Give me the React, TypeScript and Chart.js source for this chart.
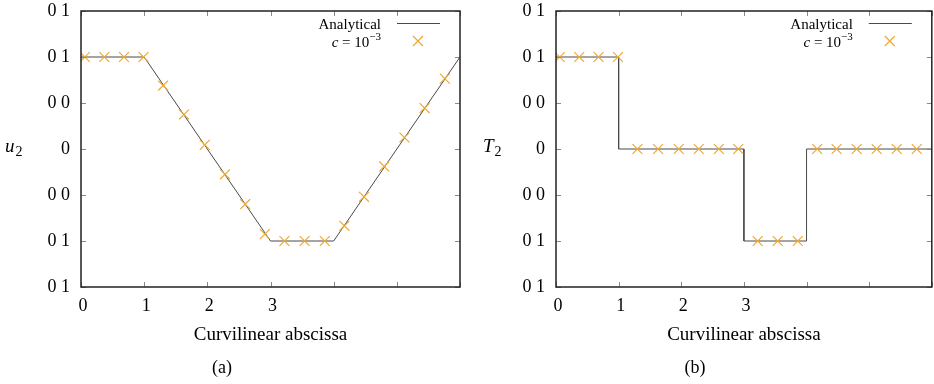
import { useEffect, useRef } from "react";
import { Chart, registerables } from "chart.js";

Chart.register(...registerables);

const FONT = '"Liberation Serif", "Times New Roman", Times, serif';

const xTickValues = [0, 1, 2, 3, 4, 5, 6];
const xTickLabels = ["0", "1", "2", "3", "", "", ""];
const yTickValues = [-3, -2, -1, 0, 1, 2, 3];
const yTickLabels = ["0 1", "0 1", "0 0", "0", "0 0", "0 1", "0 1"];

const xTitle = "Curvilinear abscissa";
const legendExact = "Analytical";

// numerical sample abscissae
const abscissa = [0.06, 0.37, 0.68, 0.99, 1.3, 1.63, 1.96, 2.28, 2.6, 2.91, 3.22, 3.54, 3.86, 4.17, 4.48, 4.8, 5.12, 5.44, 5.76];
const uNumerical = [2, 2, 2, 2, 1.38, 0.75, 0.09, -0.55, -1.2, -1.85, -2, -2, -2, -1.67, -1.04, -0.38, 0.25, 0.89, 1.53];
const tNumerical = [2, 2, 2, 2, 0, 0, 0, 0, 0, 0, -2, -2, -2, 0, 0, 0, 0, 0, 0];

// analytical solutions
const uExactX = [0, 1, 3, 4, 6];
const uExactY = [2, 2, -2, -2, 2];
const tExactX = [0, 1, 1, 3, 3, 4, 4, 6];
const tExactY = [2, 2, 0, 0, -2, -2, 0, 0];

const LINE_COLOR = "#4a4a4a";
const MARK_COLOR = "#f0a832";

type PanelCfg = {
  left: number;
  yAxisWidth: number;
  padRight: number;
  varName: string;
  varX: number;
  caption: string;
  captionX: number;
  exactX: number[];
  exactY: number[];
  num: number[];
};

const panels: PanelCfg[] = [
  { left: 0, yAxisWidth: 81, padRight: 10, varName: "u", varX: 5, caption: "(a)", captionX: 222, exactX: uExactX, exactY: uExactY, num: uNumerical },
  { left: 470, yAxisWidth: 86, padRight: 5, varName: "T", varX: 13, caption: "(b)", captionX: 225, exactX: tExactX, exactY: tExactY, num: tNumerical },
];

function drawCross(ctx: CanvasRenderingContext2D, cx: number, cy: number, h: number) {
  ctx.beginPath();
  ctx.moveTo(cx - h, cy - h);
  ctx.lineTo(cx + h, cy + h);
  ctx.moveTo(cx - h, cy + h);
  ctx.lineTo(cx + h, cy - h);
  ctx.stroke();
}

const decorPlugin = {
  id: "decor",
  afterDraw(chart: any, _args: any, opts: any) {
    const { ctx, chartArea: ca } = chart;
    const xs = chart.scales.x;
    const ys = chart.scales.y;
    ctx.save();
    // inward tick marks on all four sides
    ctx.strokeStyle = "#8a8a8a";
    ctx.lineWidth = 1;
    const tl = 5;
    for (const v of xTickValues) {
      const px = Math.round(xs.getPixelForValue(v)) + 0.5;
      ctx.beginPath();
      ctx.moveTo(px, ca.bottom);
      ctx.lineTo(px, ca.bottom - tl);
      ctx.moveTo(px, ca.top);
      ctx.lineTo(px, ca.top + tl);
      ctx.stroke();
    }
    for (const v of yTickValues) {
      const py = Math.round(ys.getPixelForValue(v)) + 0.5;
      ctx.beginPath();
      ctx.moveTo(ca.left, py);
      ctx.lineTo(ca.left + tl, py);
      ctx.moveTo(ca.right, py);
      ctx.lineTo(ca.right - tl, py);
      ctx.stroke();
    }
    // frame
    ctx.strokeStyle = "#222";
    ctx.lineWidth = 1.5;
    ctx.strokeRect(ca.left, ca.top, ca.right - ca.left, ca.bottom - ca.top);

    ctx.fillStyle = "#000";
    ctx.textBaseline = "alphabetic";
    ctx.textAlign = "left";
    // y variable label with subscript
    ctx.font = `italic 19px ${FONT}`;
    ctx.fillText(opts.varName, opts.varX, 152);
    const vw = ctx.measureText(opts.varName).width;
    ctx.font = `14px ${FONT}`;
    ctx.fillText("2", opts.varX + vw + 1, 156);

    // legend
    const textRight = ca.right - 79;
    ctx.font = `15px ${FONT}`;
    ctx.textAlign = "right";
    ctx.fillText(legendExact, textRight, 29);
    ctx.strokeStyle = LINE_COLOR;
    ctx.lineWidth = 1;
    ctx.beginPath();
    ctx.moveTo(ca.right - 63, 23.5);
    ctx.lineTo(ca.right - 20, 23.5);
    ctx.stroke();
    // "c = 10^-3"
    ctx.textAlign = "left";
    ctx.font = `11px ${FONT}`;
    const supW = ctx.measureText("\u22123").width;
    ctx.font = `15px ${FONT}`;
    const midW = ctx.measureText(" = 10").width;
    ctx.font = `italic 15px ${FONT}`;
    const cW = ctx.measureText("c").width;
    let sx = textRight - supW - midW - cW;
    ctx.fillText("c", sx, 47);
    sx += cW;
    ctx.font = `15px ${FONT}`;
    ctx.fillText(" = 10", sx, 47);
    sx += midW;
    ctx.font = `11px ${FONT}`;
    ctx.fillText("\u22123", sx, 40);
    ctx.strokeStyle = MARK_COLOR;
    ctx.lineWidth = 1.2;
    drawCross(ctx, ca.right - 42, 41, 5);

    // caption
    ctx.fillStyle = "#000";
    ctx.font = `18px ${FONT}`;
    ctx.textAlign = "center";
    ctx.textBaseline = "middle";
    ctx.fillText(opts.caption, opts.captionX, 368);
    ctx.restore();
  },
};

function Panel({ cfg }: { cfg: PanelCfg }) {
  const ref = useRef<HTMLCanvasElement | null>(null);
  useEffect(() => {
    if (!ref.current) return;
    const exact = cfg.exactX.map((x, i) => ({ x, y: cfg.exactY[i] }));
    const num = abscissa.map((x, i) => ({ x, y: cfg.num[i] }));
    const tickFont = { family: FONT, size: 18 };
    const chart = new Chart(ref.current, {
      type: "line",
      data: {
        datasets: [
          {
            label: "c = 10^-3",
            data: num,
            showLine: false,
            pointStyle: "crossRot",
            pointRadius: 7,
            pointBorderWidth: 1.2,
            pointBorderColor: MARK_COLOR,
            borderColor: MARK_COLOR,
            backgroundColor: "transparent",
          },
          {
            label: legendExact,
            data: exact,
            borderColor: LINE_COLOR,
            borderWidth: 1,
            pointRadius: 0,
            fill: false,
            tension: 0,
          },
        ],
      },
      options: {
        animation: false,
        responsive: false,
        events: [],
        layout: { padding: { left: 0, top: 11, right: cfg.padRight, bottom: 38 } },
        plugins: {
          legend: { display: false },
          tooltip: { enabled: false },
          decor: { varName: cfg.varName, varX: cfg.varX, caption: cfg.caption, captionX: cfg.captionX },
        } as any,
        scales: {
          x: {
            type: "linear",
            min: 0,
            max: 6,
            afterBuildTicks: (s: any) => {
              s.ticks = xTickValues.map((v) => ({ value: v }));
            },
            afterFit: (s: any) => {
              s.height = 59;
              s.paddingLeft = 0;
              s.paddingRight = 0;
            },
            grid: { display: false, drawTicks: false },
            border: { display: false },
            ticks: {
              autoSkip: false,
              maxRotation: 0,
              padding: 8,
              labelOffset: 2,
              color: "#000",
              font: tickFont,
              callback: (_v: any, i: number) => xTickLabels[i] ?? "",
            },
            title: { display: true, text: xTitle, color: "#000", font: { family: FONT, size: 19 }, padding: { top: 0, bottom: 0 } },
          },
          y: {
            type: "linear",
            min: -3,
            max: 3,
            afterBuildTicks: (s: any) => {
              s.ticks = yTickValues.map((v) => ({ value: v }));
            },
            afterFit: (s: any) => {
              s.width = cfg.yAxisWidth;
              s.paddingTop = 0;
              s.paddingBottom = 0;
            },
            grid: { display: false, drawTicks: false },
            border: { display: false },
            ticks: {
              autoSkip: false,
              padding: 11,
              color: "#000",
              font: tickFont,
              callback: (_v: any, i: number) => yTickLabels[i] ?? "",
            },
          },
        },
      },
      plugins: [decorPlugin],
    });
    return () => chart.destroy();
  }, [cfg]);
  return (
    <canvas
      ref={ref}
      width={470}
      height={384}
      style={{ position: "absolute", left: cfg.left, top: 0, width: 470, height: 384 }}
    />
  );
}

export default function App() {
  return (
    <div
      style={{
        position: "fixed",
        left: 0,
        top: 0,
        width: 934,
        height: 384,
        overflow: "hidden",
        background: "#fff",
      }}
    >
      {panels.map((p) => (
        <Panel key={p.caption} cfg={p} />
      ))}
    </div>
  );
}
